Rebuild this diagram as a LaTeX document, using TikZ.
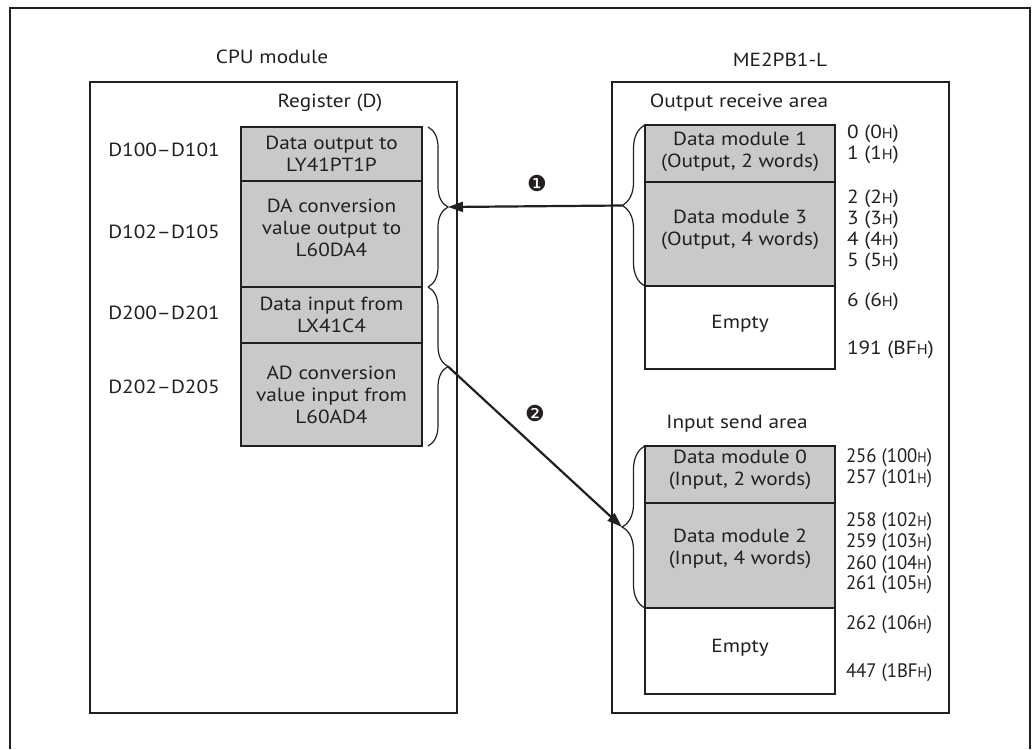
\documentclass[tikz,border=0pt]{standalone}
\usepackage{fontspec}
\setmainfont{PT Sans}[FakeStretch=1.12]
\newfontfamily\condfont{PT Sans}[FakeStretch=0.96]
\newfontfamily\dingfont{DejaVu Sans}
\usetikzlibrary{decorations.pathreplacing,arrows.meta}
\definecolor{cellgray}{RGB}{200,201,203}
\definecolor{ink}{RGB}{35,31,32}
\newcommand{\hx}{{\fontsize{14.5}{14.5}\selectfont H}}
\begin{document}
\begin{tikzpicture}[x=1pt,y=-1pt,
  every node/.style={font=\fontsize{19}{22}\selectfont, text=ink, inner sep=0pt, outer sep=0pt},
  container/.style={draw=ink, line width=1.3pt, anchor=north west},
  cell/.style={draw=ink, line width=1.4pt, fill=cellgray, anchor=north west},
  emptycell/.style={draw=ink, line width=1.4pt, fill=white, anchor=north west},
  txt/.style={align=center},
  num/.style={anchor=west, align=left},
  cnum/.style={anchor=west, align=left, font=\condfont\fontsize{19.5}{22}\selectfont},
  brc/.style={draw=ink, line width=1.2pt, decorate, decoration={brace, amplitude=#1}},
  arr/.style={draw=ink, line width=2.2pt, -{Triangle[length=15pt,width=10pt]}},
  stepmark/.style={font=\dingfont\fontsize{22}{22}\selectfont}
]
\useasboundingbox (0,0) rectangle (1032,749);
% outer frame (open at bottom)
\draw[ink, line width=2pt] (10,749) -- (10,8) -- (1030,8) -- (1030,749);

% containers
\node[container, minimum width=367pt, minimum height=631pt] (cpu) at (90,82) {};
\node[container, minimum width=337pt, minimum height=631pt] (me) at (612,82) {};
\node (cputitle) at (272,57) {CPU module};
\node (metitle) at (780,60) {ME2PB1-L};
\node (regtitle) at (330,103) {Register (D)};
\node (outtitle) at (739,103) {Output receive area};
\node (intitle) at (737,424) {Input send area};

% register cells
\node[cell, minimum width=181pt, minimum height=54pt] (r1) at (241,127) {};
\node[cell, minimum width=181pt, minimum height=106pt] (r2) at (241,181) {};
\node[cell, minimum width=181pt, minimum height=56pt] (r3) at (241,287) {};
\node[cell, minimum width=181pt, minimum height=103pt] (r4) at (241,343) {};
\node[txt] (r1t) at (331.5,154) {Data output to\\LY41PT1P};
\node[txt] (r2t) at (331.5,228) {DA conversion\\value output to\\L60DA4};
\node[txt] (r3t) at (331.5,315) {Data input from\\LX41C4};
\node[txt] (r4t) at (331.5,395) {AD conversion\\value input from\\L60AD4};
\node (d1) at (164,150) {D100--D101};
\node (d2) at (164,232) {D102--D105};
\node (d3) at (164,313) {D200--D201};
\node (d4) at (164,387) {D202--D205};

% output receive area
\node[cell, minimum width=190pt, minimum height=57pt] (o1) at (645,125) {};
\node[cell, minimum width=190pt, minimum height=104pt] (o3) at (645,182) {};
\node[emptycell, minimum width=190pt, minimum height=83pt] (oe) at (645,286) {};
\node[txt] (o1t) at (740,151.5) {Data module 1\\(Output, 2 words)};
\node[txt] (o3t) at (740,230) {Data module 3\\(Output, 4 words)};
\node (oet) at (740,324) {Empty};
\node[num] (n0) at (847,134) {0 (0\hx)};
\node[num] (n1) at (847,155) {1 (1\hx)};
\node[num] (n2) at (847,199) {2 (2\hx)};
\node[num] (n3) at (847,220) {3 (3\hx)};
\node[num] (n4) at (847,241) {4 (4\hx)};
\node[num] (n5) at (847,262) {5 (5\hx)};
\node[num] (n6) at (847,302) {6 (6\hx)};
\node[num] (n191) at (847,350) {191 (BF\hx)};

% input send area
\node[cell, minimum width=190pt, minimum height=57pt] (i0) at (645,446) {};
\node[cell, minimum width=190pt, minimum height=105pt] (i2) at (645,503) {};
\node[emptycell, minimum width=190pt, minimum height=86pt] (ie) at (645,608) {};
\node[txt] (i0t) at (740,469.5) {Data module 0\\(Input, 2 words)};
\node[txt] (i2t) at (740,549) {Data module 2\\(Input, 4 words)};
\node (iet) at (740,648) {Empty};
\node[cnum] (m256) at (846,458) {256 (100\hx)};
\node[cnum] (m257) at (846,479) {257 (101\hx)};
\node[cnum] (m258) at (846,522) {258 (102\hx)};
\node[cnum] (m259) at (846,543) {259 (103\hx)};
\node[cnum] (m260) at (846,565) {260 (104\hx)};
\node[cnum] (m261) at (846,585) {261 (105\hx)};
\node[cnum] (m262) at (846,625) {262 (106\hx)};
\node[cnum] (m447) at (846,673) {447 (1BF\hx)};

% braces
\draw[brc=20pt] ([xshift=6pt]r1.north east) -- ([xshift=6pt]r2.south east);
\draw[brc=20pt] ([xshift=6pt]r3.north east) -- ([xshift=6pt]r4.south east);
\draw[brc=23pt] (o3.south west) -- (o1.north west);
\draw[brc=23pt] (i2.south west) -- (i0.north west);
\coordinate (tipL1) at (448,207);
\coordinate (tipL2) at (448,366.5);
\coordinate (tipR1) at (622,205.5);
\coordinate (tipR2) at (622,527);

% arrows
\draw[arr] (tipR1) -- (tipL1);
\draw[arr] (tipL2) -- (tipR2);
\node[stepmark] (m1) at (537,183) {❶};
\node[stepmark] (m2) at (535,413) {❷};
\end{tikzpicture}
\end{document}
